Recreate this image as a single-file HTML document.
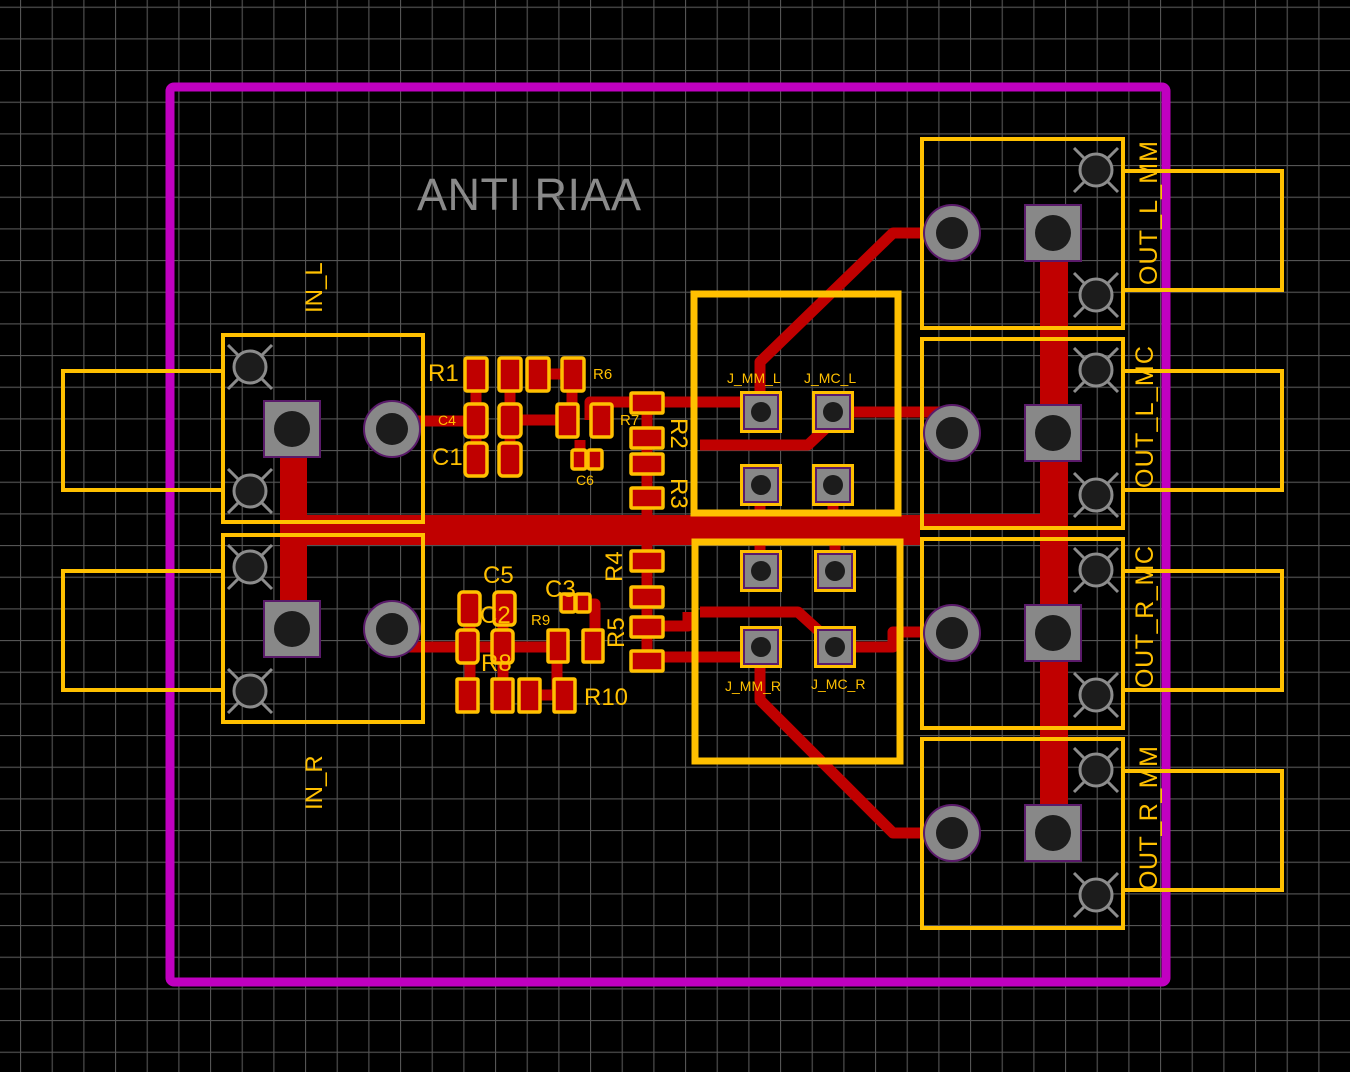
<!DOCTYPE html>
<html><head><meta charset="utf-8"><style>html,body{margin:0;padding:0;background:#000;width:1350px;height:1072px;overflow:hidden}</style></head>
<body>
<svg width="1350" height="1072" viewBox="0 0 1350 1072" xmlns="http://www.w3.org/2000/svg" font-family="Liberation Sans, sans-serif">
<defs>
<pattern id="g" x="20" y="6.67" width="31.667" height="31.667" patternUnits="userSpaceOnUse">
<path d="M0.5 0V31.667M0 0.5H31.667" stroke="#555" stroke-width="1.2" fill="none"/>
</pattern>
<g id="mh"><path d="M-22-22L22 22M22-22L-22 22" stroke="#8c8c8c" stroke-width="3"/><circle r="16" fill="#1c1c1c" stroke="#8c8c8c" stroke-width="3"/></g>
<g id="rp"><circle r="28" fill="#888" stroke="#5a1a6a" stroke-width="2"/><circle r="16" fill="#1c1c1c"/></g>
<g id="sp"><rect x="-28" y="-28" width="56" height="56" fill="#888" stroke="#5a1a6a" stroke-width="2"/><circle r="18" fill="#1c1c1c"/></g>
<g id="jp"><rect x="-21" y="-21" width="42" height="42" fill="#ffc000"/><rect x="-18" y="-18" width="36" height="36" fill="#5a1a6a"/><rect x="-16" y="-16" width="32" height="32" fill="#888"/><circle r="10" fill="#1c1c1c"/></g>
</defs>
<rect width="1350" height="1072" fill="#000"/>
<rect width="1350" height="1072" fill="url(#g)"/>

<!-- traces -->
<g fill="#c00000">
<rect x="280" y="455" width="27" height="70"/>
<rect x="280" y="515" width="640" height="30"/>
<rect x="280" y="545" width="27" height="60"/>
<rect x="920" y="514" width="148" height="14"/>
<rect x="1040" y="233" width="28" height="600"/>
</g>
<g stroke="#c00000" fill="none" stroke-width="11" stroke-linejoin="round">
<path d="M392 421H470"/>
<path d="M392 647H470"/>
<path d="M500 420H570"/>
<path d="M476 374V460M510 374V460M537 374H572V420M476 420V380"/>
<path d="M590 420V402H647"/>
<path d="M647 402H760"/>
<path d="M580 440V458H600"/>
<path d="M647 400V660"/>
<path d="M760 412V362L893 233H922"/>
<path d="M700 445H808L826 428"/>
<path d="M833 412H940"/>
<path d="M760 571V530M835 571V530M760 485V515M833 485V515"/>
<path d="M700 612H798L820 632"/>
<path d="M663 657H760"/>
<path d="M760 647V700L893 833H922"/>
<path d="M835 647H893V632H922"/>
<path d="M663 626H688V612"/>
<path d="M470 608V700M503 608V700M530 695H565M557 645V695M575 604H595V640M480 647H560"/>
</g>

<!-- board outline -->
<rect x="170" y="87" width="996" height="895" rx="4" fill="none" stroke="#c000c0" stroke-width="9"/>

<g fill="none" stroke="#ffc000" stroke-width="4">
<rect x="223" y="335" width="200" height="187"/>
<rect x="63" y="371" width="160" height="119"/>
<rect x="223" y="535" width="200" height="187"/>
<rect x="63" y="571" width="160" height="119"/>
<rect x="922" y="139" width="201" height="189"/>
<rect x="1123" y="171" width="159" height="119"/>
<rect x="922" y="339" width="201" height="189"/>
<rect x="1123" y="371" width="159" height="119"/>
<rect x="922" y="539" width="201" height="189"/>
<rect x="1123" y="571" width="159" height="119"/>
<rect x="922" y="739" width="201" height="189"/>
<rect x="1123" y="771" width="159" height="119"/>
</g>
<use href="#mh" x="250" y="367"/><use href="#mh" x="250" y="491"/>
<use href="#mh" x="250" y="567"/><use href="#mh" x="250" y="691"/>
<use href="#sp" x="292" y="429"/><use href="#rp" x="392" y="429"/>
<use href="#sp" x="292" y="629"/><use href="#rp" x="392" y="629"/>
<g>
<use href="#mh" x="1096" y="170"/><use href="#mh" x="1096" y="295"/>
<use href="#mh" x="1096" y="370"/><use href="#mh" x="1096" y="495"/>
<use href="#mh" x="1096" y="570"/><use href="#mh" x="1096" y="695"/>
<use href="#mh" x="1096" y="770"/><use href="#mh" x="1096" y="895"/>
<use href="#rp" x="952" y="233"/><use href="#sp" x="1053" y="233"/>
<use href="#rp" x="952" y="433"/><use href="#sp" x="1053" y="433"/>
<use href="#rp" x="952" y="633"/><use href="#sp" x="1053" y="633"/>
<use href="#rp" x="952" y="833"/><use href="#sp" x="1053" y="833"/>
</g>

<rect x="694" y="294" width="204" height="219" fill="none" stroke="#ffc000" stroke-width="7"/>
<rect x="695" y="542" width="205" height="219" fill="none" stroke="#ffc000" stroke-width="7"/>
<use href="#jp" x="761" y="412"/><use href="#jp" x="833" y="412"/>
<use href="#jp" x="761" y="485"/><use href="#jp" x="833" y="485"/>
<use href="#jp" x="761" y="571"/><use href="#jp" x="835" y="571"/>
<use href="#jp" x="761" y="647"/><use href="#jp" x="835" y="647"/>

<g fill="#c00000" stroke="#ffc000" stroke-width="3.5">
<rect x="465" y="358" width="22" height="33" rx="2"/><rect x="499" y="358" width="22" height="33" rx="2"/>
<rect x="527" y="358" width="22" height="33" rx="2"/><rect x="562" y="358" width="22" height="33" rx="2"/>
<rect x="465" y="404" width="22" height="33" rx="4"/><rect x="499" y="404" width="22" height="33" rx="4"/>
<rect x="465" y="443" width="22" height="33" rx="4"/><rect x="499" y="443" width="22" height="33" rx="4"/>
<rect x="557" y="404" width="21" height="33" rx="2"/><rect x="591" y="404" width="21" height="33" rx="2"/>
<rect x="572" y="450" width="14" height="19" rx="2"/><rect x="588" y="450" width="14" height="19" rx="2"/>
<rect x="631" y="393" width="32" height="20" rx="1"/><rect x="631" y="428" width="32" height="20" rx="1"/>
<rect x="631" y="454" width="32" height="20" rx="1"/><rect x="631" y="488" width="32" height="20" rx="1"/>
<rect x="631" y="551" width="32" height="20" rx="1"/><rect x="631" y="587" width="32" height="20" rx="1"/>
<rect x="631" y="617" width="32" height="20" rx="1"/><rect x="631" y="651" width="32" height="20" rx="1"/>
<rect x="459" y="592" width="21" height="33" rx="4"/><rect x="494" y="592" width="21" height="33" rx="4"/>
<rect x="457" y="630" width="21" height="33" rx="4"/><rect x="492" y="630" width="21" height="33" rx="4"/>
<rect x="548" y="630" width="20" height="32" rx="1"/><rect x="583" y="630" width="20" height="32" rx="1"/>
<rect x="561" y="594" width="14" height="18" rx="2"/><rect x="576" y="594" width="14" height="18" rx="2"/>
<rect x="457" y="679" width="21" height="33" rx="1"/><rect x="492" y="679" width="21" height="33" rx="1"/>
<rect x="519" y="679" width="21" height="33" rx="1"/><rect x="554" y="679" width="21" height="33" rx="1"/>
</g>

<text x="417" y="210" font-size="45" fill="#8a8a8a" textLength="224">ANTI RIAA</text>
<g fill="#ffc000">
<text x="428" y="381" font-size="24">R1</text>
<text x="593" y="379" font-size="15">R6</text>
<text x="438" y="425" font-size="14">C4</text>
<text x="432" y="465" font-size="24">C1</text>
<text x="620" y="425" font-size="15">R7</text>
<text x="576" y="485" font-size="14">C6</text>
<text x="483" y="583" font-size="24">C5</text>
<text x="545" y="597" font-size="24">C3</text>
<text x="480" y="623" font-size="24">C2</text>
<text x="531" y="625" font-size="15">R9</text>
<text x="481" y="671" font-size="24">R8</text>
<text x="584" y="705" font-size="24">R10</text>
<text x="727" y="383" font-size="14">J_MM_L</text>
<text x="804" y="383" font-size="14">J_MC_L</text>
<text x="725" y="691" font-size="14">J_MM_R</text>
<text x="811" y="689" font-size="14">J_MC_R</text>
<text transform="translate(671,418) rotate(90)" font-size="24">R2</text>
<text transform="translate(671,478) rotate(90)" font-size="24">R3</text>
<text transform="translate(622,582) rotate(-90)" font-size="24">R4</text>
<text transform="translate(624,648) rotate(-90)" font-size="24">R5</text>
<text transform="translate(322,313) rotate(-90)" font-size="24">IN_L</text>
<text transform="translate(322,810) rotate(-90)" font-size="24">IN_R</text>
<text transform="translate(1157,285) rotate(-90)" font-size="25" textLength="144">OUT_L_MM</text>
<text transform="translate(1153,488) rotate(-90)" font-size="25" textLength="142">OUT_L_MC</text>
<text transform="translate(1153,688) rotate(-90)" font-size="25" textLength="142">OUT_R_MC</text>
<text transform="translate(1157,890) rotate(-90)" font-size="25" textLength="144">OUT_R_MM</text>
</g>
</svg>
</body></html>
